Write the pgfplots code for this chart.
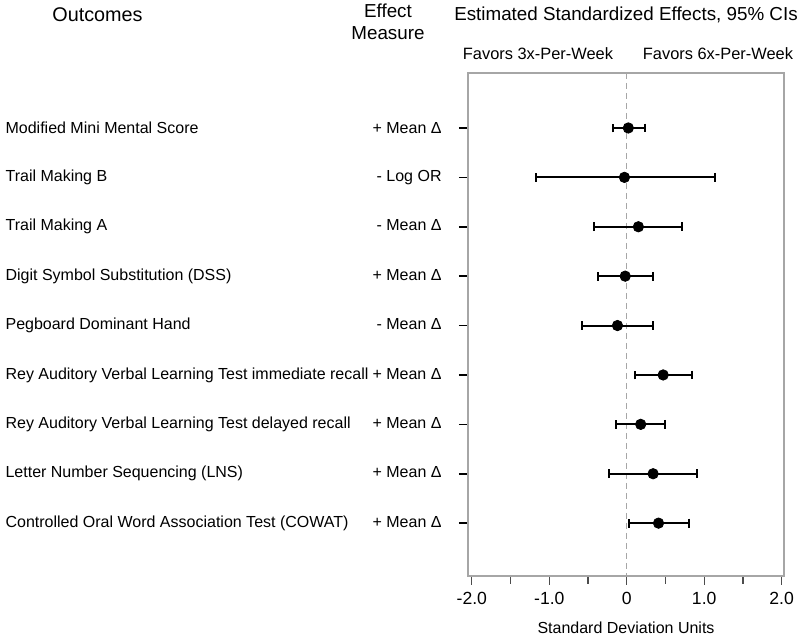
\documentclass[border=0pt]{standalone}
\usepackage{pgfplots}
\pgfplotsset{compat=1.18}
\usepackage{pgfplotstable}
\usepackage{fontspec}
\setmainfont{Liberation Sans}

\pgfplotstableread{
y x lo hi
1 0.02 -0.18 0.24
2 -0.03 -1.17 1.14
3 0.15 -0.42 0.71
4 -0.02 -0.37 0.34
5 -0.12 -0.58 0.34
6 0.47 0.10 0.84
7 0.18 -0.14 0.50
8 0.34 -0.23 0.91
9 0.41 0.03 0.80
}\data

\newcommand{\rl}[2]{\makebox[218pt]{#1\hfill #2}}

\begin{document}
\begin{tikzpicture}
\useasboundingbox (0,0) rectangle (400pt,318pt);
\begin{axis}[
  at={(234pt,30pt)}, anchor=south west, scale only axis,
  width=158pt, height=251.5pt,
  xmin=-2.05, xmax=2.03, ymin=-0.113, ymax=10.07, y dir=reverse,
  axis line style={gray!70, line width=0.6pt},
  xtick={-2,-1,0,1,2}, xticklabels={-2.0,-1.0,0,1.0,2.0},
  minor xtick={-1.5,-0.5,0.5,1.5},
  ytick={1,...,9},
  yticklabels={
    \rl{Modified Mini Mental Score}{+ Mean Δ},
    \rl{Trail Making B}{- Log OR},
    \rl{Trail Making A}{- Mean Δ},
    \rl{Digit Symbol Substitution (DSS)}{+ Mean Δ},
    \rl{Pegboard Dominant Hand}{- Mean Δ},
    \rl{Rey Auditory Verbal Learning Test immediate recall}{+ Mean Δ},
    \rl{Rey Auditory Verbal Learning Test delayed recall}{+ Mean Δ},
    \rl{Letter Number Sequencing (LNS)}{+ Mean Δ},
    \rl{Controlled Oral Word Association Test (COWAT)}{+ Mean Δ}},
  tick align=outside, major tick length=4.5pt, minor tick length=4pt,
  ytick style={black, line width=0.8pt},
  xtick pos=bottom, ytick pos=left,
  xtick style={black!70, line width=0.6pt},
  tick label style={font=\fontsize{8}{9.6}\selectfont},
  xticklabel style={font=\fontsize{8.8}{10}\selectfont},
  yticklabel style={inner sep=0pt, anchor=east, xshift=-8.5pt},
  /pgf/number format/assume math mode=true,
  clip=false,
]
\addplot[gray!70, line width=0.5pt, dash pattern=on 3pt off 2pt] coordinates {(0,-0.113) (0,10.07)};
\addplot[only marks, mark=*, mark size=2.6pt, black,
  error bars/.cd, x dir=both, x explicit,
  error bar style={line width=1pt, black},
  error mark=|,
  error mark options={black, line width=1pt, mark size=2.2pt}]
  table[x=x, y=y,
    x error plus expr=\thisrow{hi}-\thisrow{x},
    x error minus expr=\thisrow{x}-\thisrow{lo}] {\data};
\end{axis}
\begin{scope}[every node/.style={font=\fontsize{9.4}{11}\selectfont, inner sep=0pt}]
\node[font=\fontsize{9.9}{11}\selectfont] at (48.75pt,310.5pt) {Outcomes};
\node[align=center] at (194pt,307pt) {Effect\\Measure};
\node at (313pt,310.5pt) {Estimated Standardized Effects, 95\% CIs};
\node[font=\fontsize{8.2}{10}\selectfont] at (269pt,291pt) {Favors 3x-Per-Week};
\node[font=\fontsize{8.2}{10}\selectfont] at (359pt,291pt) {Favors 6x-Per-Week};
\end{scope}
\node[font=\fontsize{8}{9.6}\selectfont, inner sep=0pt] at (313pt,4pt) {Standard Deviation Units};
\end{tikzpicture}
\end{document}
